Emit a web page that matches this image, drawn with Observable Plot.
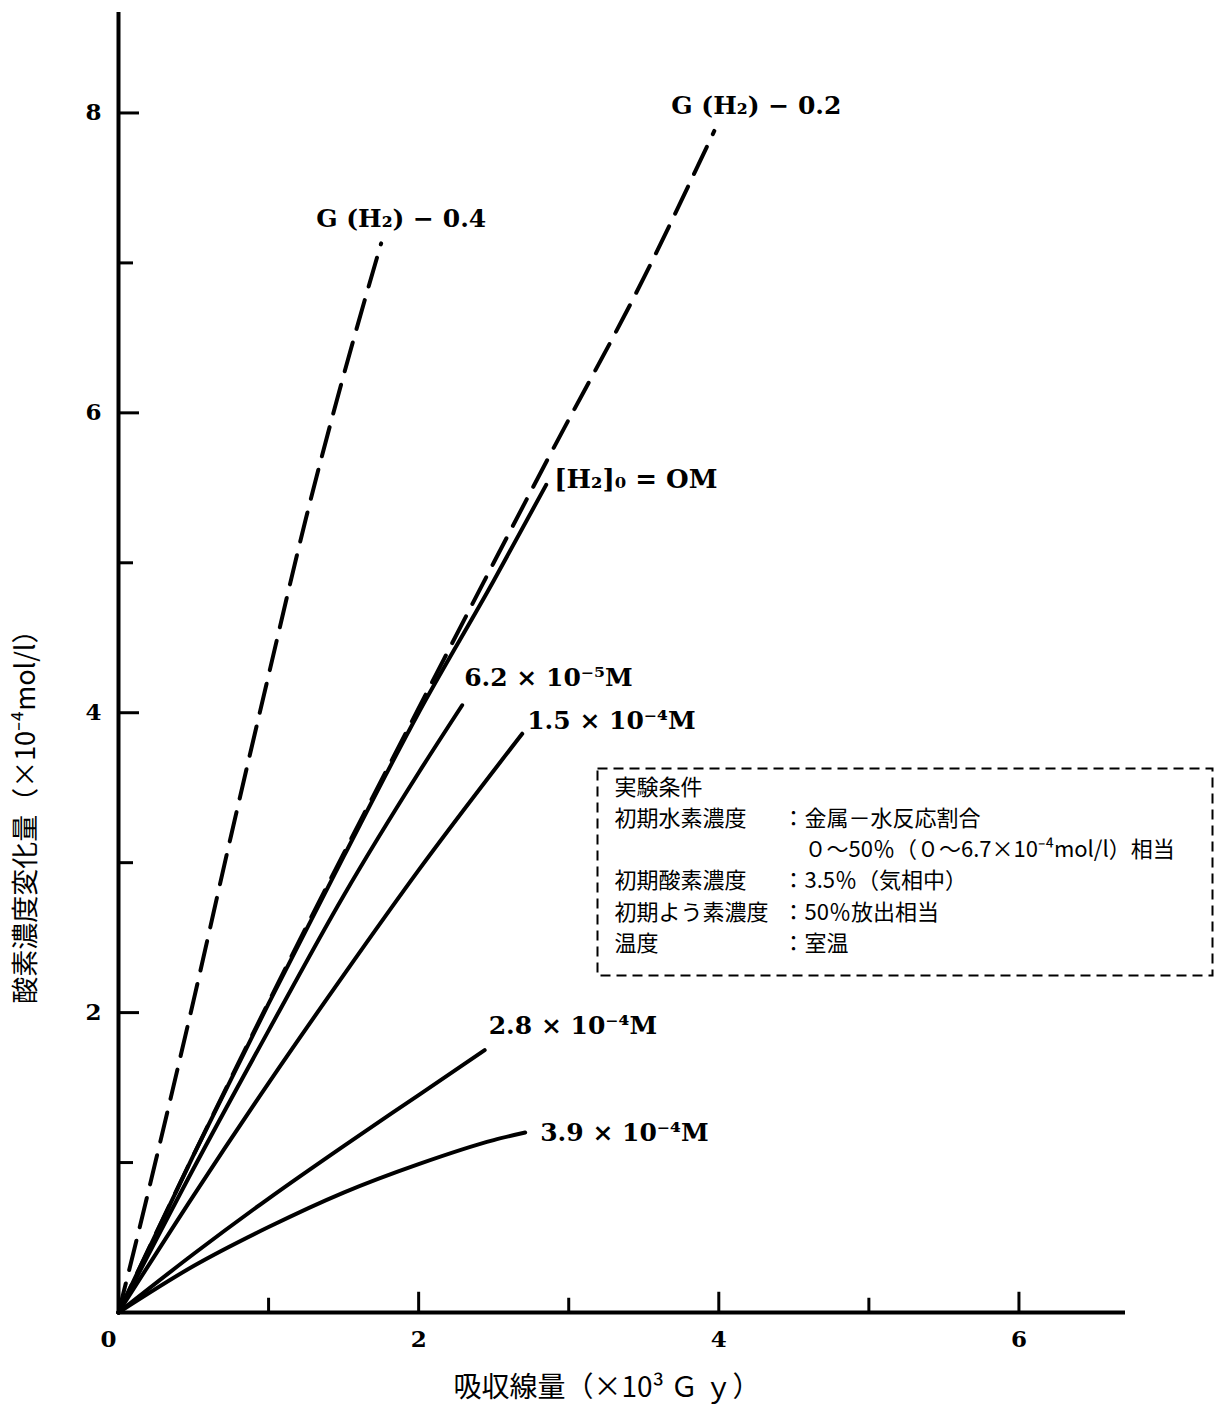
<!DOCTYPE html>
<html><head><meta charset="utf-8">
<script src="https://cdn.jsdelivr.net/npm/d3@7"></script>
<script src="https://cdn.jsdelivr.net/npm/@observablehq/plot@0.6"></script>
<style>body{margin:0;background:#fff}</style>
</head><body><div id="chart"></div>
<script>
// ---- data ----
const xTicks = [1, 2, 3, 4, 5, 6];
const xTickLabels = [2, 4, 6];
const yTicks = [1, 2, 3, 4, 5, 6, 7, 8];
const yTickLabels = [2, 4, 6, 8];

const seriesNames = ["G(H2)=0.4", "G(H2)=0.2", "[H2]0=0M", "6.2e-5M", "1.5e-4M", "2.8e-4M", "3.9e-4M"];
const seriesLabels = ["G (H₂) − 0.4", "G (H₂) − 0.2", "[H₂]₀ = OM", "6.2 × 10⁻⁵M", "1.5 × 10⁻⁴M", "2.8 × 10⁻⁴M", "3.9 × 10⁻⁴M"];
const seriesDashed = [true, true, false, false, false, false, false];

const g04X = [0, 0.1, 0.25, 0.5, 0.75, 1.0, 1.25, 1.5, 1.75];
const g04Y = [0, 0.4, 1.02, 2.08, 3.18, 4.25, 5.3, 6.25, 7.13];
const g02X = [0, 0.5, 1.0, 1.5, 2.0, 2.5, 2.87, 3.5, 3.97];
const g02Y = [0, 1.05, 2.07, 3.06, 4.03, 5.0, 5.71, 6.9, 7.88];
const omX = [0, 0.5, 1.0, 1.5, 2.0, 2.5, 2.85];
const omY = [0, 1.05, 2.06, 3.04, 4.0, 4.88, 5.52];
const m62X = [0, 0.5, 1.0, 1.5, 2.0, 2.29];
const m62Y = [0, 0.96, 1.88, 2.78, 3.6, 4.05];
const m15X = [0, 0.5, 1.0, 1.5, 2.0, 2.69];
const m15Y = [0, 0.78, 1.53, 2.25, 2.95, 3.86];
const m28X = [0, 0.5, 1.0, 1.5, 2.0, 2.44];
const m28Y = [0, 0.39, 0.76, 1.11, 1.45, 1.75];
const m39X = [0, 0.5, 1.0, 1.5, 2.0, 2.5, 2.71];
const m39Y = [0, 0.31, 0.57, 0.8, 0.99, 1.15, 1.2];

const seriesX = [g04X, g02X, omX, m62X, m15X, m28X, m39X];
const seriesY = [g04Y, g02Y, omY, m62Y, m15Y, m28Y, m39Y];

const xTitle = "吸収線量（×10³ Ｇ ｙ）";
const yTitle = "酸素濃度変化量（×10⁻⁴mol/l）";
const boxLabels = ["実験条件", "初期水素濃度", "", "初期酸素濃度", "初期よう素濃度", "温度"];
const boxValues = ["", "：金属－水反応割合", "　０～50％（０～6.7×10⁻⁴mol/l）相当", "：3.5％（気相中）", "：50％放出相当", "：室温"];

// ---- styles / layout ----
const labelOffsets = [
  {dx: -65, dy: -24}, {dx: -43, dy: -25}, {dx: 8, dy: -5},
  {dx: 2, dy: -27}, {dx: 5, dy: -13}, {dx: 4, dy: -24}, {dx: 15, dy: 0}
];
const serif = "DejaVu Serif, serif";
const cjk = "'Noto Sans CJK JP', sans-serif";

const rows = seriesNames.flatMap((name, i) =>
  seriesX[i].map((x, j) => ({series: name, x, y: seriesY[i][j]})));
const ends = seriesNames.map((name, i) => ({
  series: name, label: seriesLabels[i],
  x: seriesX[i][seriesX[i].length - 1], y: seriesY[i][seriesY[i].length - 1]
}));
const dashedNames = seriesNames.filter((d, i) => seriesDashed[i]);

const labelMarks = ends.map((e, i) => Plot.text([e], {
  x: "x", y: "y", text: "label", textAnchor: "start",
  dx: labelOffsets[i].dx, dy: labelOffsets[i].dy,
  fontSize: i === 2 ? 26 : 25, fontWeight: "bold", fontFamily: serif, fill: "black"
}));

const chart = Plot.plot({
  width: 1219, height: 1405,
  marginLeft: 118, marginRight: 94, marginTop: 12, marginBottom: 93,
  x: {domain: [0, 6.71], axis: null},
  y: {domain: [0, 8.67], axis: null},
  marks: [
    Plot.line(rows.filter(d => !dashedNames.includes(d.series)), {
      x: "x", y: "y", z: "series", stroke: "black", strokeWidth: 4, curve: "monotone-x"
    }),
    Plot.line(rows.filter(d => dashedNames.includes(d.series)), {
      x: "x", y: "y", z: "series", stroke: "black", strokeWidth: 4, curve: "monotone-x",
      strokeDasharray: "30,14"
    }),
    Plot.ruleX([0], {y1: 0, y2: 8.67, stroke: "black", strokeWidth: 4}),
    Plot.ruleY([0], {x1: 0, x2: 6.71, stroke: "black", strokeWidth: 4}),
    Plot.ruleX(xTicks, {x: d => d, y1: 0, y2: d => d % 2 === 0 ? 0.135 : 0.095, stroke: "black", strokeWidth: 3}),
    Plot.ruleY(yTicks, {y: d => d, x1: 0, x2: d => d % 2 === 0 ? 0.14 : 0.1, stroke: "black", strokeWidth: 3}),
    Plot.text(xTickLabels, {x: d => d, y: 0, dy: 27, text: d => String(d), fontSize: 23, fontWeight: "bold", fontFamily: serif}),
    Plot.text([0], {x: 0, y: 0, dx: -10, dy: 27, text: d => String(d), fontSize: 23, fontWeight: "bold", fontFamily: serif}),
    Plot.text(yTickLabels, {x: 0, y: d => d, dx: -25, text: d => String(d), fontSize: 23, fontWeight: "bold", fontFamily: serif}),
    Plot.text([xTitle], {frameAnchor: "bottom", dx: -15, dy: 76, text: d => d, fontSize: 28, fontFamily: cjk, lineAnchor: "middle"}),
    Plot.text([yTitle], {x: -0.615, y: 3.35, rotate: -90, text: d => d, fontSize: 27, fontFamily: cjk, lineAnchor: "middle", textAnchor: "middle"}),
    Plot.frame({insetLeft: 479, insetRight: -87, insetTop: 756, insetBottom: 337, stroke: "black", strokeWidth: 2, strokeDasharray: "10,6"}),
    Plot.text([boxLabels.join("\n")], {frameAnchor: "top-left", dx: 496, dy: 760, text: d => d, textAnchor: "start", lineAnchor: "top", lineHeight: 1.42, fontSize: 22, fontFamily: cjk}),
    Plot.text([boxValues.join("\n")], {frameAnchor: "top-left", dx: 664, dy: 760, text: d => d, textAnchor: "start", lineAnchor: "top", lineHeight: 1.42, fontSize: 22, fontFamily: cjk}),
    ...labelMarks
  ]
});
document.getElementById("chart").appendChild(chart);
</script>
</body></html>
